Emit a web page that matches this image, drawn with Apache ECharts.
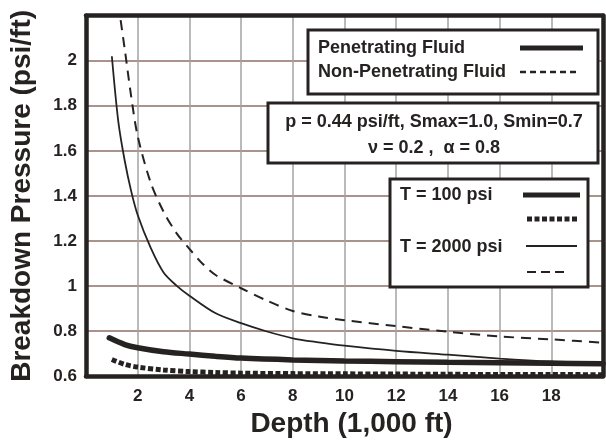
<!DOCTYPE html>
<html>
<head>
<meta charset="utf-8">
<script src="https://cdn.jsdelivr.net/npm/echarts@6/dist/echarts.min.js"></script>
<style>
html,body{margin:0;padding:0;background:#fff;}
#c{width:606px;height:443px;}
</style>
</head>
<body>
<div id="c"></div>
<script>
// ---- data ----
const xTicks = [2, 4, 6, 8, 10, 12, 14, 16, 18];
const yTicks = [0.6, 0.8, 1, 1.2, 1.4, 1.6, 1.8, 2];

// T = 100 psi, penetrating fluid (thick solid)
const pen100Depth = [0.9, 1.5, 2, 3, 4, 5, 6, 8, 10, 12, 14, 16, 18, 20];
const pen100Value = [0.770, 0.740, 0.726, 0.708, 0.698, 0.688, 0.680, 0.672, 0.667, 0.664, 0.661, 0.659, 0.657, 0.655];

// T = 100 psi, non-penetrating fluid (thick dotted)
const non100Depth = [1, 1.5, 2, 3, 4, 5, 6, 8, 10, 12, 14, 16, 18, 20];
const non100Value = [0.674, 0.652, 0.640, 0.627, 0.620, 0.616, 0.613, 0.611, 0.610, 0.609, 0.608, 0.607, 0.607, 0.606];

// T = 2000 psi, penetrating fluid (thin solid)
const pen2000Depth = [1, 1.25, 1.5, 1.75, 2, 2.5, 3, 3.5, 4, 5, 6, 7, 8, 9, 10, 12, 14, 16, 18, 20];
const pen2000Value = [2.02, 1.73, 1.555, 1.42, 1.315, 1.17, 1.06, 1.002, 0.957, 0.88, 0.835, 0.798, 0.768, 0.75, 0.735, 0.712, 0.695, 0.678, 0.665, 0.658];

// T = 2000 psi, non-penetrating fluid (thin dashed)
const non2000Depth = [1.34, 1.5, 1.75, 2, 2.5, 3, 3.5, 4, 4.5, 5, 6, 7, 8, 9, 10, 12, 14, 16, 18, 20];
const non2000Value = [2.18, 2.05, 1.84, 1.665, 1.46, 1.33, 1.235, 1.165, 1.10, 1.05, 0.99, 0.935, 0.889, 0.865, 0.848, 0.822, 0.797, 0.776, 0.763, 0.748];

const xName = 'Depth (1,000 ft)';
const yName = 'Breakdown Pressure (psi/ft)';
const legendFluid = ['Penetrating Fluid', 'Non-Penetrating Fluid'];
const paramLines = ['p = 0.44 psi/ft, Smax=1.0, Smin=0.7', 'ν = 0.2 ,  α = 0.8'];
const legendT = ['T = 100 psi', 'T = 2000 psi'];

// ---- chart ----
const FONT = '"Liberation Sans", Arial, sans-serif';
const INK = '#262222';
const zip = (xs, ys) => xs.map((x, i) => [x, ys[i]]);

const chart = echarts.init(document.getElementById('c'), null, {renderer: 'canvas'});

function txt(x, y, s, align) {
  return {type: 'text', x: x, y: y, z: 101,
    style: {text: s, fill: INK, font: 'bold 18px ' + FONT, align: align || 'left', verticalAlign: 'middle'}};
}
function seg(x1, x2, y, w, dash) {
  return {type: 'line', z: 101, shape: {x1: x1, y1: y, x2: x2, y2: y},
    style: {stroke: INK, lineWidth: w, lineDash: dash || null, lineCap: 'butt'}};
}
function box(x, y, w, h) {
  return {type: 'rect', z: 100, shape: {x: x, y: y, width: w, height: h},
    style: {fill: '#fff', stroke: INK, lineWidth: 3}};
}
const frameAxisLine = {show: true, onZero: false, lineStyle: {color: INK, width: 4.5}};

const option = {
  backgroundColor: '#fff',
  animation: false,
  grid: {left: 86, right: 2, top: 15.7, bottom: 66.3},
  xAxis: [{
    type: 'value', min: 0, max: 20, interval: 2, position: 'bottom',
    name: xName, nameLocation: 'middle', nameGap: 31,
    nameTextStyle: {fontFamily: FONT, fontWeight: 'bold', fontSize: 28, color: INK, padding: [0, 0, 0, 14]},
    axisLine: frameAxisLine, axisTick: {show: false},
    axisLabel: {margin: 12, fontFamily: FONT, fontWeight: 'bold', fontSize: 17, color: INK,
      formatter: v => (xTicks.indexOf(v) >= 0 ? String(v) : '')},
    splitLine: {show: true, lineStyle: {color: '#a3a3a3', width: 1.5}}
  }, {
    type: 'value', min: 0, max: 20, interval: 2, position: 'top',
    axisLine: frameAxisLine, axisTick: {show: false}, axisLabel: {show: false}, splitLine: {show: false}
  }],
  yAxis: [{
    type: 'value', min: 0.6, max: 2.2, interval: 0.2, position: 'left',
    name: yName, nameLocation: 'middle', nameGap: 50,
    nameTextStyle: {fontFamily: FONT, fontWeight: 'bold', fontSize: 28, color: INK},
    axisLine: frameAxisLine, axisTick: {show: false},
    axisLabel: {margin: 9, fontFamily: FONT, fontWeight: 'bold', fontSize: 17, color: INK,
      formatter: v => {
        const r = +v.toFixed(1);
        return yTicks.indexOf(r) >= 0 ? String(r) : '';
      }},
    splitLine: {show: true, lineStyle: {color: '#8c6f66', width: 1.6}}
  }, {
    type: 'value', min: 0.6, max: 2.2, interval: 0.2, position: 'right',
    axisLine: frameAxisLine, axisTick: {show: false}, axisLabel: {show: false}, splitLine: {show: false}
  }],
  series: [
    {name: 'T100 penetrating', type: 'line', data: zip(pen100Depth, pen100Value),
      showSymbol: false, smooth: 0.3, z: 5,
      lineStyle: {color: INK, width: 5.5, cap: 'round'}},
    {name: 'T100 non-penetrating', type: 'line', data: zip(non100Depth, non100Value),
      showSymbol: false, smooth: 0.3, z: 5,
      lineStyle: {color: INK, width: 5, type: [5, 2.5]}},
    {name: 'T2000 penetrating', type: 'line', data: zip(pen2000Depth, pen2000Value),
      showSymbol: false, smooth: 0.3, z: 4,
      lineStyle: {color: INK, width: 1.8}},
    {name: 'T2000 non-penetrating', type: 'line', data: zip(non2000Depth, non2000Value),
      showSymbol: false, smooth: 0.3, z: 4,
      lineStyle: {color: INK, width: 2, type: [10, 7]}}
  ],
  graphic: [
    box(308, 30, 290, 64),
    txt(318, 48, legendFluid[0]),
    txt(318, 72, legendFluid[1]),
    seg(520, 583, 48, 5),
    seg(520, 580, 72, 2.5, [6, 4]),

    box(268, 103, 330, 60),
    txt(434, 122, paramLines[0], 'center'),
    txt(434, 148, paramLines[1], 'center'),

    box(390, 179, 198, 108),
    txt(400, 195, legendT[0]),
    txt(400, 247, legendT[1]),
    seg(523, 580, 195, 5),
    seg(527, 577, 219, 5, [5, 2.5]),
    seg(526, 577, 246, 1.8),
    seg(527, 567, 272, 2, [9, 5])
  ]
};
chart.setOption(option);
</script>
</body>
</html>
